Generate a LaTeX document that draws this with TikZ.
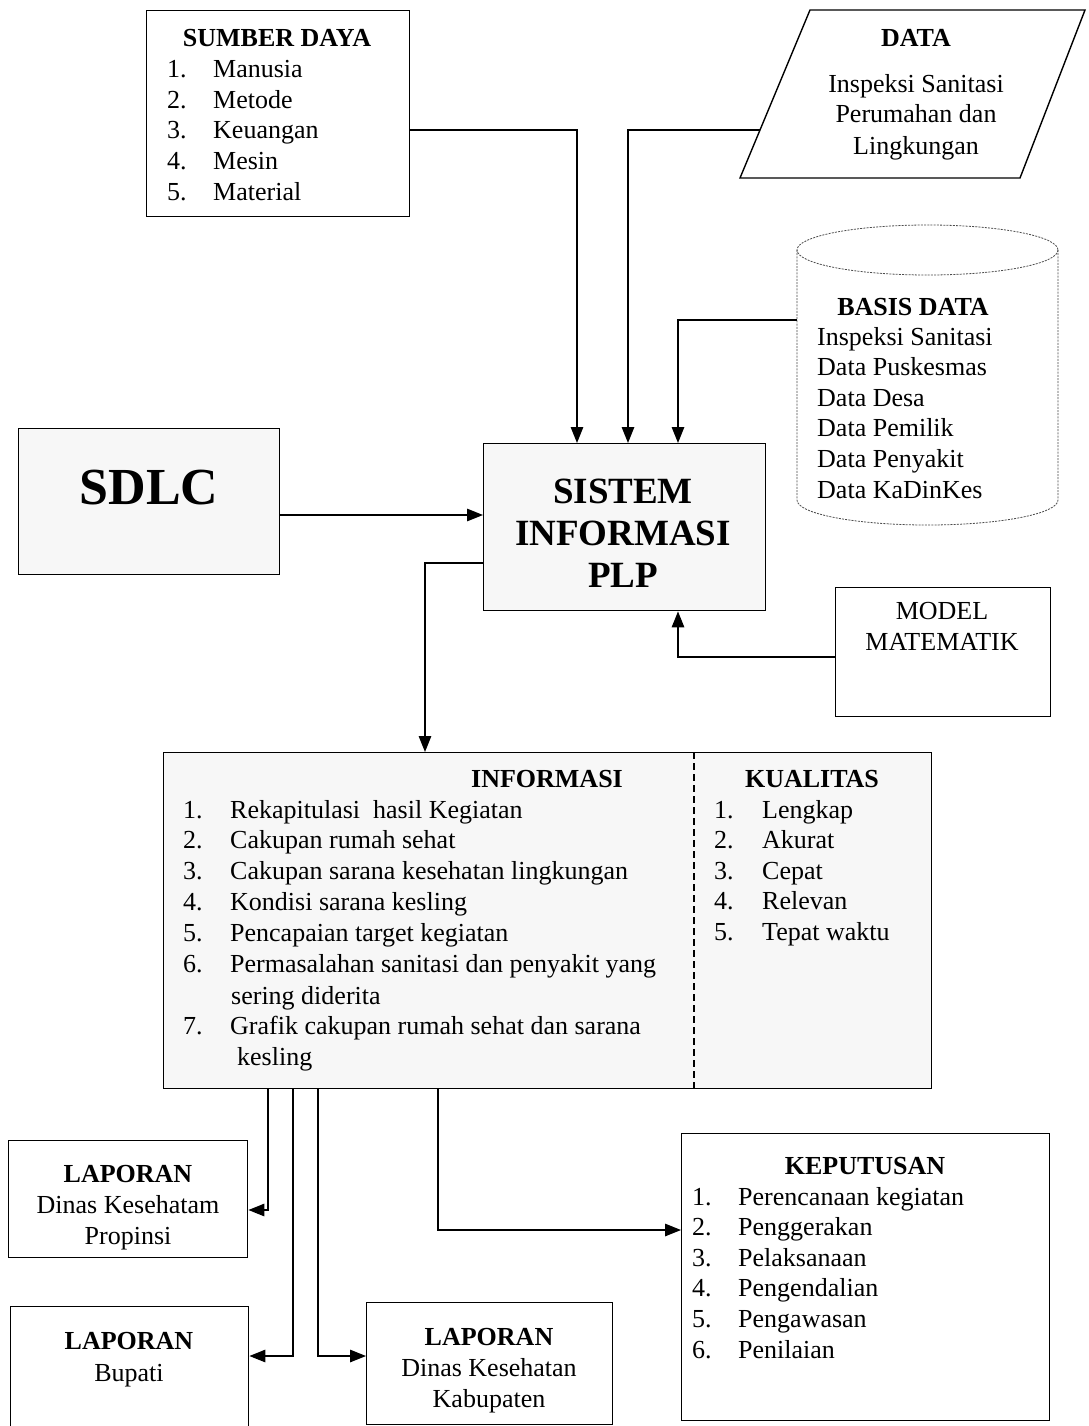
\documentclass[tikz,border=0pt]{standalone}
\usepackage{fontspec}
\setmainfont{Liberation Serif}
\usetikzlibrary{arrows.meta,calc}
\begin{document}
\begin{tikzpicture}[x=1pt,y=-1pt,
  box/.style={draw,line width=1.4pt,inner sep=0pt,anchor=north west},
  arr/.style={line width=1.4pt,-{Triangle[length=16pt,width=12.5pt]}},
  ln/.style={line width=1.4pt},
  cyl/.style={line width=0.8pt,black!70,dash pattern=on 2pt off 1.2pt},
  txt/.style={anchor=base west,inner sep=0pt,font=\fontsize{26}{30}\selectfont},
  ctxt/.style={anchor=base,inner sep=0pt,font=\fontsize{26}{30}\selectfont},
  bt/.style={anchor=base,inner sep=0pt,font=\fontsize{26}{30}\selectfont\bfseries}]
\fill[white] (0,0) rectangle (1088,1426);
\useasboundingbox (0,0) rectangle (1088,1426);
\clip (0,0) rectangle (1088,1426);

% boxes
\node[box,minimum width=263pt,minimum height=206pt] (sumber) at (146,10) {};
\node[box,minimum width=261pt,minimum height=146pt,fill=black!3] (sdlc) at (18,428) {};
\node[box,minimum width=282pt,minimum height=167pt,fill=black!3] (sis) at (483,443) {};
\node[box,minimum width=215pt,minimum height=129pt] (model) at (835,587) {};
\node[box,minimum width=768pt,minimum height=336pt,fill=black!3] (info) at (163,752) {};
\node[box,minimum width=239pt,minimum height=117pt] (lprop) at (8,1140) {};
\node[box,minimum width=238pt,minimum height=135pt] (lbup) at (10,1306) {};
\node[box,minimum width=246pt,minimum height=122pt] (lkab) at (366,1302) {};
\node[box,minimum width=368pt,minimum height=287pt] (kep) at (681,1133) {};

% data parallelogram
\draw[ln] (810,10) -- (1085,10) -- (1020,178) -- (740,178) -- cycle;
\coordinate (dataL) at (760,130);

% cylinder
\node[inner sep=0pt,minimum width=261pt,minimum height=300pt,anchor=north west] (basis) at (797,225) {};
\draw[cyl] (927.5,250) ellipse [x radius=130.5, y radius=25];
\draw[cyl] (797,250) -- (797,500) arc[start angle=180, end angle=0, x radius=130.5, y radius=25] -- (1058,250);

% dashed divider
\draw[line width=1.2pt,dash pattern=on 7pt off 4pt] (info.north -| 694,0) -- (info.south -| 694,0);

% texts: sumber daya
\node[bt] (sdt) at (277,47) {SUMBER DAYA};
\foreach \t [count=\i] in {Manusia,Metode,Keuangan,Mesin,Material}{
  \node[txt] (sn\i) at (167,{78+30.5*(\i-1)}) {\i.};
  \node[txt] (st\i) at (213,{78+30.5*(\i-1)}) {\t};
}
% data
\node[bt] (dtt) at (916,47) {DATA};
\node[ctxt] (d1) at (916,93) {Inspeksi Sanitasi};
\node[ctxt] (d2) at (916,123) {Perumahan dan};
\node[ctxt] (d3) at (916,154) {Lingkungan};
% basis data
\node[bt] (bdt) at (913,315) {BASIS DATA};
\foreach \t [count=\i] in {Inspeksi Sanitasi,Data Puskesmas,Data Desa,Data Pemilik,Data Penyakit,Data KaDinKes}{
  \node[txt] (b\i) at (817,{345+30.6*(\i-1)}) {\t};
}
% sdlc
\node[anchor=base,inner sep=0pt,font=\fontsize{52}{60}\selectfont\bfseries] (sdl) at (149,504) {SDLC};
% sistem
\node[anchor=base,inner sep=0pt,font=\fontsize{37}{42}\selectfont\bfseries] (s1) at (623,503) {SISTEM};
\node[anchor=base,inner sep=0pt,font=\fontsize{37}{42}\selectfont\bfseries] (s2) at (623,545) {INFORMASI};
\node[anchor=base,inner sep=0pt,font=\fontsize{37}{42}\selectfont\bfseries] (s3) at (623,587) {PLP};
% model
\node[ctxt] (m1) at (942,619) {MODEL};
\node[ctxt] (m2) at (942,650) {MATEMATIK};
% informasi
\node[bt] (it) at (547,787) {INFORMASI};
\foreach \t [count=\i] in {Rekapitulasi\ \ hasil Kegiatan,Cakupan rumah sehat,Cakupan sarana kesehatan lingkungan,Kondisi sarana kesling,Pencapaian target kegiatan,Permasalahan sanitasi dan penyakit yang}{
  \node[txt] (in\i) at (183,{818+30.8*(\i-1)}) {\i.};
  \node[txt] (it\i) at (230,{818+30.8*(\i-1)}) {\t};
}
\node[txt] (it6b) at (231,1004) {sering diderita};
\node[txt] (in7) at (183,1034) {7.};
\node[txt] (it7) at (230,1034) {Grafik cakupan rumah sehat dan sarana};
\node[txt] (it7b) at (237,1065) {kesling};
% kualitas
\node[bt] (kt) at (812,787) {KUALITAS};
\foreach \t [count=\i] in {Lengkap,Akurat,Cepat,Relevan,Tepat waktu}{
  \node[txt] (kn\i) at (714,{818+30.5*(\i-1)}) {\i.};
  \node[txt] (kq\i) at (762,{818+30.5*(\i-1)}) {\t};
}
% laporan
\node[bt] (lp1) at (128,1182) {LAPORAN};
\node[ctxt] (lp2) at (128,1213) {Dinas Kesehatam};
\node[ctxt] (lp3) at (128,1244) {Propinsi};
\node[bt] (lb1) at (129,1349) {LAPORAN};
\node[ctxt] (lb2) at (129,1381) {Bupati};
\node[bt] (lk1) at (489,1345) {LAPORAN};
\node[ctxt] (lk2) at (489,1376) {Dinas Kesehatan};
\node[ctxt] (lk3) at (489,1407) {Kabupaten};
% keputusan
\node[bt] (kpt) at (865,1174) {KEPUTUSAN};
\foreach \t [count=\i] in {Perencanaan kegiatan,Penggerakan,Pelaksanaan,Pengendalian,Pengawasan,Penilaian}{
  \node[txt] (pn\i) at (692,{1205+30.6*(\i-1)}) {\i.};
  \node[txt] (pt\i) at (738,{1205+30.6*(\i-1)}) {\t};
}

% connectors
\draw[arr] (sumber.east |- 0,130) -| (sis.north -| 577,0);
\draw[arr] (dataL) -| (sis.north -| 628,0);
\draw[arr] (basis.west |- 0,320) -| (sis.north -| 678,0);
\draw[arr] (sdlc.east |- 0,515) -- (sis.west |- 0,515);
\draw[arr] (model.west |- 0,657) -| (sis.south -| 678,0);
\draw[arr] (sis.west |- 0,563) -| (info.north -| 425,0);
\draw[arr] (info.south -| 268,0) |- (lprop.east |- 0,1210);
\draw[arr] (info.south -| 293,0) |- (lbup.east |- 0,1356);
\draw[arr] (info.south -| 318,0) |- (lkab.west |- 0,1356);
\draw[arr] (info.south -| 438,0) |- (kep.west |- 0,1230);
\end{tikzpicture}
\end{document}
